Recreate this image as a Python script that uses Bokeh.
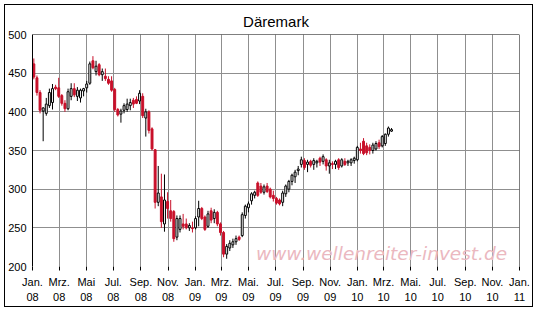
import pandas as pd
from bokeh.plotting import figure
from bokeh.models import ColumnDataSource, FixedTicker, Span, Label, Range1d
from bokeh.embed import file_html
from bokeh.resources import INLINE

title_text = "Däremark"
watermark = "www.wellenreiter-invest.de"
first_week = "2008-01-04"

opens = [462, 444, 425, 401, 398, 408, 412, 432, 431, 421, 411, 404, 420, 430, 420, 418, 427, 431, 437, 466,
         452, 461, 448, 446, 442, 440, 429, 403, 397, 402, 403, 408, 415, 416, 414, 420, 392, 400, 378, 351,
         283, 290, 255, 284, 272, 271, 238, 248, 255, 255, 250, 250, 250, 264, 275, 264, 252, 272, 262, 270,
         255, 244, 216, 224, 228, 232, 238, 240, 266, 276, 285, 292, 308, 304, 296, 304, 300, 292, 288, 286,
         283, 294, 300, 310, 316, 324, 332, 337, 332, 336, 332, 334, 340, 336, 338, 330, 333, 332, 338, 330,
         336, 334, 334, 337, 338, 352, 362, 356, 354, 350, 352, 360, 356, 359, 371, 375]
highs = [469, 447, 428, 406, 418, 430, 436, 435, 444, 423, 415, 430, 437, 437, 432, 430, 431, 440, 465, 472,
         466, 463, 456, 456, 446, 446, 431, 405, 404, 411, 417, 417, 418, 420, 428, 424, 404, 402, 380, 352,
         330, 320, 319, 296, 286, 273, 266, 266, 268, 262, 256, 258, 265, 285, 277, 266, 272, 276, 274, 272,
         257, 246, 229, 234, 236, 240, 240, 270, 280, 284, 296, 298, 310, 308, 306, 308, 302, 298, 290, 288,
         298, 306, 312, 320, 325, 330, 342, 340, 338, 338, 340, 338, 342, 345, 340, 338, 336, 338, 340, 340,
         340, 338, 340, 342, 356, 360, 366, 360, 358, 360, 362, 364, 370, 372, 381, 379]
lows = [442, 421, 398, 362, 395, 405, 403, 428, 418, 408, 400, 402, 415, 419, 414, 412, 420, 425, 435, 455,
        447, 446, 440, 440, 435, 426, 400, 394, 386, 398, 400, 402, 405, 410, 410, 392, 368, 372, 350, 275,
        278, 250, 245, 262, 258, 232, 234, 244, 248, 248, 246, 244, 248, 252, 260, 246, 250, 256, 256, 252,
        240, 212, 210, 220, 224, 228, 233, 238, 262, 270, 280, 288, 290, 294, 293, 295, 288, 284, 280, 279,
        278, 290, 296, 305, 308, 318, 328, 325, 322, 328, 325, 328, 330, 332, 324, 320, 326, 326, 325, 328,
        330, 330, 330, 333, 336, 346, 344, 344, 345, 346, 350, 352, 354, 356, 368, 374]
closes = [445, 425, 402, 405, 410, 425, 430, 430, 420, 411, 404, 426, 430, 422, 428, 428, 430, 436, 462, 457,
          459, 448, 452, 443, 437, 428, 403, 396, 401, 408, 410, 412, 410, 411, 424, 395, 400, 376, 352, 283,
          295, 258, 286, 275, 262, 236, 262, 262, 252, 250, 253, 249, 262, 275, 262, 248, 268, 260, 270, 255,
          244, 216, 226, 230, 232, 236, 235, 267, 278, 281, 294, 296, 292, 296, 303, 297, 290, 288, 282, 281,
          295, 304, 310, 318, 322, 326, 338, 328, 335, 331, 337, 336, 335, 342, 330, 334, 332, 336, 328, 338,
          332, 336, 338, 340, 354, 350, 346, 347, 350, 357, 359, 355, 368, 371, 379, 377]

tick_dates = ["2008-01-01", "2008-03-01", "2008-05-01", "2008-07-01", "2008-09-01", "2008-11-01",
              "2009-01-01", "2009-03-01", "2009-05-01", "2009-07-01", "2009-09-01", "2009-11-01",
              "2010-01-01", "2010-03-01", "2010-05-01", "2010-07-01", "2010-09-01", "2010-11-01",
              "2011-01-01"]
tick_labels = ["Jan.\n08", "Mrz.\n08", "Mai\n08", "Jul.\n08", "Sep.\n08", "Nov.\n08",
               "Jan.\n09", "Mrz.\n09", "Mai.\n09", "Jul.\n09", "Sep.\n09", "Nov.\n09",
               "Jan.\n10", "Mrz.\n10", "Mai.\n10", "Jul.\n10", "Sep.\n10", "Nov.\n10",
               "Jan.\n11"]
y_ticks = [200, 250, 300, 350, 400, 450, 500]

RED = "#c8102a"
GRID = "#8f8f8f"
FONT = "Liberation Sans"

dates = pd.date_range(first_week, periods=len(closes), freq="7D")
up = [c >= o for o, c in zip(opens, closes)]
src = ColumnDataSource(dict(
    x=dates,
    top=[max(o, c) for o, c in zip(opens, closes)],
    bottom=[min(o, c) for o, c in zip(opens, closes)],
    high=highs, low=lows,
    fill=["white" if u else RED for u in up],
    line=["black" if u else RED for u in up],
))

def ms(d):
    return pd.Timestamp(d).value / 1e6

x0, x1 = ms(tick_dates[0]), ms(tick_dates[-1])

p = figure(width=527, height=301, x_axis_type="datetime",
           x_range=Range1d(x0, x1), y_range=Range1d(200, 500),
           output_backend="svg", toolbar_location=None,
           min_border_left=24, min_border_right=15, min_border_top=28, min_border_bottom=42,
           background_fill_color="white", border_fill_color="white")
p.styles = {"margin": "4px 0 0 4px", "border": "1px solid black", "box-sizing": "content-box"}

p.title.text = title_text
p.title.align = "center"
p.title.text_font = FONT
p.title.text_font_size = "15px"
p.title.text_font_style = "normal"
p.title.text_color = "black"
p.title.offset = 0

p.outline_line_color = None

# x axis
xa = p.xaxis[0]
xa.ticker = FixedTicker(ticks=[ms(d) for d in tick_dates])
xa.major_label_overrides = {ms(d): l for d, l in zip(tick_dates, tick_labels)}
xa.axis_line_color = None
xa.major_tick_in = 0
xa.major_tick_out = 4
xa.major_tick_line_color = "black"
xa.minor_tick_line_color = None
xa.major_label_standoff = 5
xa.major_label_text_font = FONT
xa.major_label_text_font_size = "11px"
xa.major_label_text_color = "black"
xa.major_label_text_line_height = 1.25

# y axis
ya = p.yaxis[0]
ya.ticker = FixedTicker(ticks=y_ticks)
ya.axis_line_color = "black"
ya.major_tick_in = 0
ya.major_tick_out = 0
ya.minor_tick_line_color = None
ya.major_label_standoff = 6
ya.major_label_text_font = FONT
ya.major_label_text_font_size = "11px"
ya.major_label_text_color = "black"

p.xgrid.grid_line_color = GRID
p.ygrid.grid_line_color = GRID
p.xgrid.grid_line_alpha = 1
p.ygrid.grid_line_alpha = 1

p.add_layout(Span(location=500, dimension="width", line_color="black", line_width=1))
p.add_layout(Span(location=x1, dimension="height", line_color="black", line_width=1))

p.add_layout(Label(x=ms("2009-05-18"), y=217, text=watermark, text_font="DejaVu Sans",
                   text_font_style="italic", text_font_size="18.5px", text_color="#ebb8c0",
                   text_baseline="alphabetic", text_align="left"))

week = 7 * 24 * 3600 * 1000
p.segment(x0="x", y0="high", x1="x", y1="low", source=src, line_color="line", line_width=1)
p.vbar(x="x", top="top", bottom="bottom", width=week * 0.62, source=src,
       fill_color="fill", line_color="line", line_width=1)

open("out.html", "w").write(file_html(p, INLINE))
